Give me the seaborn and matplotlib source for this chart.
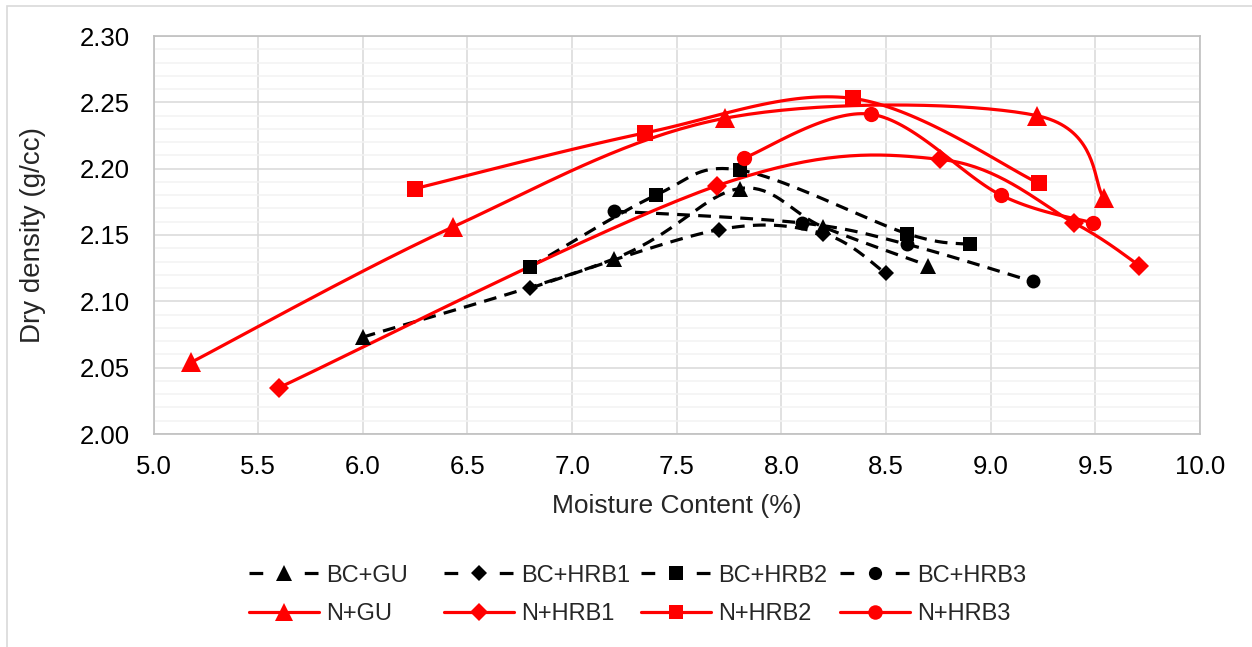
import numpy as np
import pandas as pd
import matplotlib
matplotlib.use("Agg")
import matplotlib.pyplot as plt
from matplotlib.lines import Line2D
from matplotlib.patches import Rectangle
from matplotlib.ticker import MultipleLocator
import seaborn as sns

# Ma'lumotlar (rasmdan o'qilgan)
bc_gu_x = [6.0, 7.2, 7.8, 8.2, 8.7]
bc_gu_y = [2.073, 2.132, 2.185, 2.156, 2.127]
bc_hrb1_x = [6.8, 7.7, 8.2, 8.5]
bc_hrb1_y = [2.110, 2.154, 2.151, 2.121]
bc_hrb2_x = [6.8, 7.4, 7.8, 8.6, 8.9]
bc_hrb2_y = [2.126, 2.180, 2.199, 2.151, 2.143]
bc_hrb3_x = [7.2, 8.1, 8.6, 9.2]
bc_hrb3_y = [2.168, 2.159, 2.143, 2.115]

n_gu_x = [5.18, 6.43, 7.73, 9.22, 9.54]
n_gu_y = [2.054, 2.156, 2.238, 2.240, 2.178]
n_hrb1_x = [5.60, 7.69, 8.76, 9.40, 9.71]
n_hrb1_y = [2.035, 2.187, 2.207, 2.159, 2.127]
n_hrb2_x = [6.25, 7.35, 8.34, 9.23]
n_hrb2_y = [2.185, 2.227, 2.253, 2.189]
n_hrb3_x = [7.82, 8.43, 9.05, 9.49]
n_hrb3_y = [2.208, 2.241, 2.180, 2.159]

series_names = ["BC+GU", "BC+HRB1", "BC+HRB2", "BC+HRB3",
                "N+GU", "N+HRB1", "N+HRB2", "N+HRB3"]
series_x = [bc_gu_x, bc_hrb1_x, bc_hrb2_x, bc_hrb3_x,
            n_gu_x, n_hrb1_x, n_hrb2_x, n_hrb3_x]
series_y = [bc_gu_y, bc_hrb1_y, bc_hrb2_y, bc_hrb3_y,
            n_gu_y, n_hrb1_y, n_hrb2_y, n_hrb3_y]

# Uslub
markers = ["^", "D", "s", "o", "^", "D", "s", "o"]
msizes = [12, 8.5, 10.5, 10, 14, 10, 11, 11]
colors = ["black"] * 4 + ["#FF0000"] * 4
dashed = [True] * 4 + [False] * 4

sns.set_theme(style="whitegrid")
plt.rcParams["font.family"] = ["Liberation Sans", "DejaVu Sans"]


def excel_smooth(xs, ys, n=40):
    # Excel "smoothed line" ga o'xshash Bezier egri chizig'i
    p = np.column_stack([xs, ys]).astype(float)
    ext = np.vstack([p[0], p, p[-1]])
    t = np.linspace(0, 1, n)[:, None]
    out = []
    for i in range(len(p) - 1):
        p0, p1, p2, p3 = ext[i], ext[i + 1], ext[i + 2], ext[i + 3]
        c1 = p1 + (p2 - p0) / 6
        c2 = p2 - (p3 - p1) / 6
        seg = (1 - t) ** 3 * p1 + 3 * (1 - t) ** 2 * t * c1 + 3 * (1 - t) * t ** 2 * c2 + t ** 3 * p2
        out.append(seg if i == 0 else seg[1:])
    return np.vstack(out)


fig = plt.figure(figsize=(12.52, 6.47), dpi=100)
ax = fig.add_axes([153.5 / 1252, 1 - 434 / 647, (1200 - 153.5) / 1252, (434 - 36) / 647])

handles = []
for name, xs, ys, mk, ms, c, d in zip(series_names, series_x, series_y,
                                      markers, msizes, colors, dashed):
    curve = excel_smooth(xs, ys)
    curve_df = pd.DataFrame({"x": curve[:, 0], "y": curve[:, 1]})
    ls = (0, (4, 2.6)) if d else "-"
    sns.lineplot(data=curve_df, x="x", y="y", sort=False, estimator=None,
                 color=c, linewidth=2.3, linestyle=ls, ax=ax, zorder=3)
    ax.plot(xs, ys, linestyle="none", marker=mk, markersize=ms,
            color=c, markeredgewidth=0, zorder=4)
    hls = (0, (4.3, 13)) if d else "-"
    handles.append(Line2D([], [], color=c, linewidth=2.3, linestyle=hls,
                          marker=mk, markersize=ms * 0.95, markeredgewidth=0))

ax.set_xlim(5.0, 10.0)
ax.set_ylim(2.00, 2.30)
ax.xaxis.set_major_locator(MultipleLocator(0.5))
ax.yaxis.set_major_locator(MultipleLocator(0.05))
ax.yaxis.set_minor_locator(MultipleLocator(0.01))
ax.xaxis.set_major_formatter(plt.FormatStrFormatter("%.1f"))
ax.yaxis.set_major_formatter(plt.FormatStrFormatter("%.2f"))

ax.set_facecolor("white")
ax.grid(which="major", color="#D9D9D9", linewidth=1.1, zorder=1)
ax.grid(which="minor", axis="y", color="#F2F2F2", linewidth=1.1, zorder=0)
ax.grid(which="minor", axis="x", visible=False)
ax.set_axisbelow(True)
for sp in ax.spines.values():
    sp.set_color("#BFBFBF")
    sp.set_linewidth(1.2)

ax.tick_params(axis="both", which="both", length=0, labelsize=18.5, colors="black")
ax.tick_params(axis="x", pad=15)
ax.tick_params(axis="y", pad=17)

ax.set_xlabel("Moisture Content (%)", fontsize=19)
ax.set_ylabel("Dry density (g/cc)", fontsize=20)
ax.xaxis.set_label_coords(0.5, -0.15)
ax.yaxis.set_label_coords(-0.103, 0.5)

# Legend: har bir ustun alohida (Excel kabi teng joylashuv)
col_left = [249, 444, 641, 840]
for k in range(4):
    leg = fig.legend([handles[k], handles[k + 4]], [series_names[k], series_names[k + 4]],
                     loc="center left", bbox_to_anchor=(col_left[k] / 1252, 1 - 595 / 647),
                     frameon=False, fontsize=17, handlelength=2.97, handletextpad=0.3,
                     labelspacing=0.7, borderpad=0, borderaxespad=0)

# Tashqi ramka
fig.patches.append(Rectangle((7 / 1252, -0.5), 2, 0.5 + 1 - 6 / 647,
                             transform=fig.transFigure, fill=False,
                             edgecolor="#D9D9D9", linewidth=1.2))

fig.savefig("out.png", dpi=100)
